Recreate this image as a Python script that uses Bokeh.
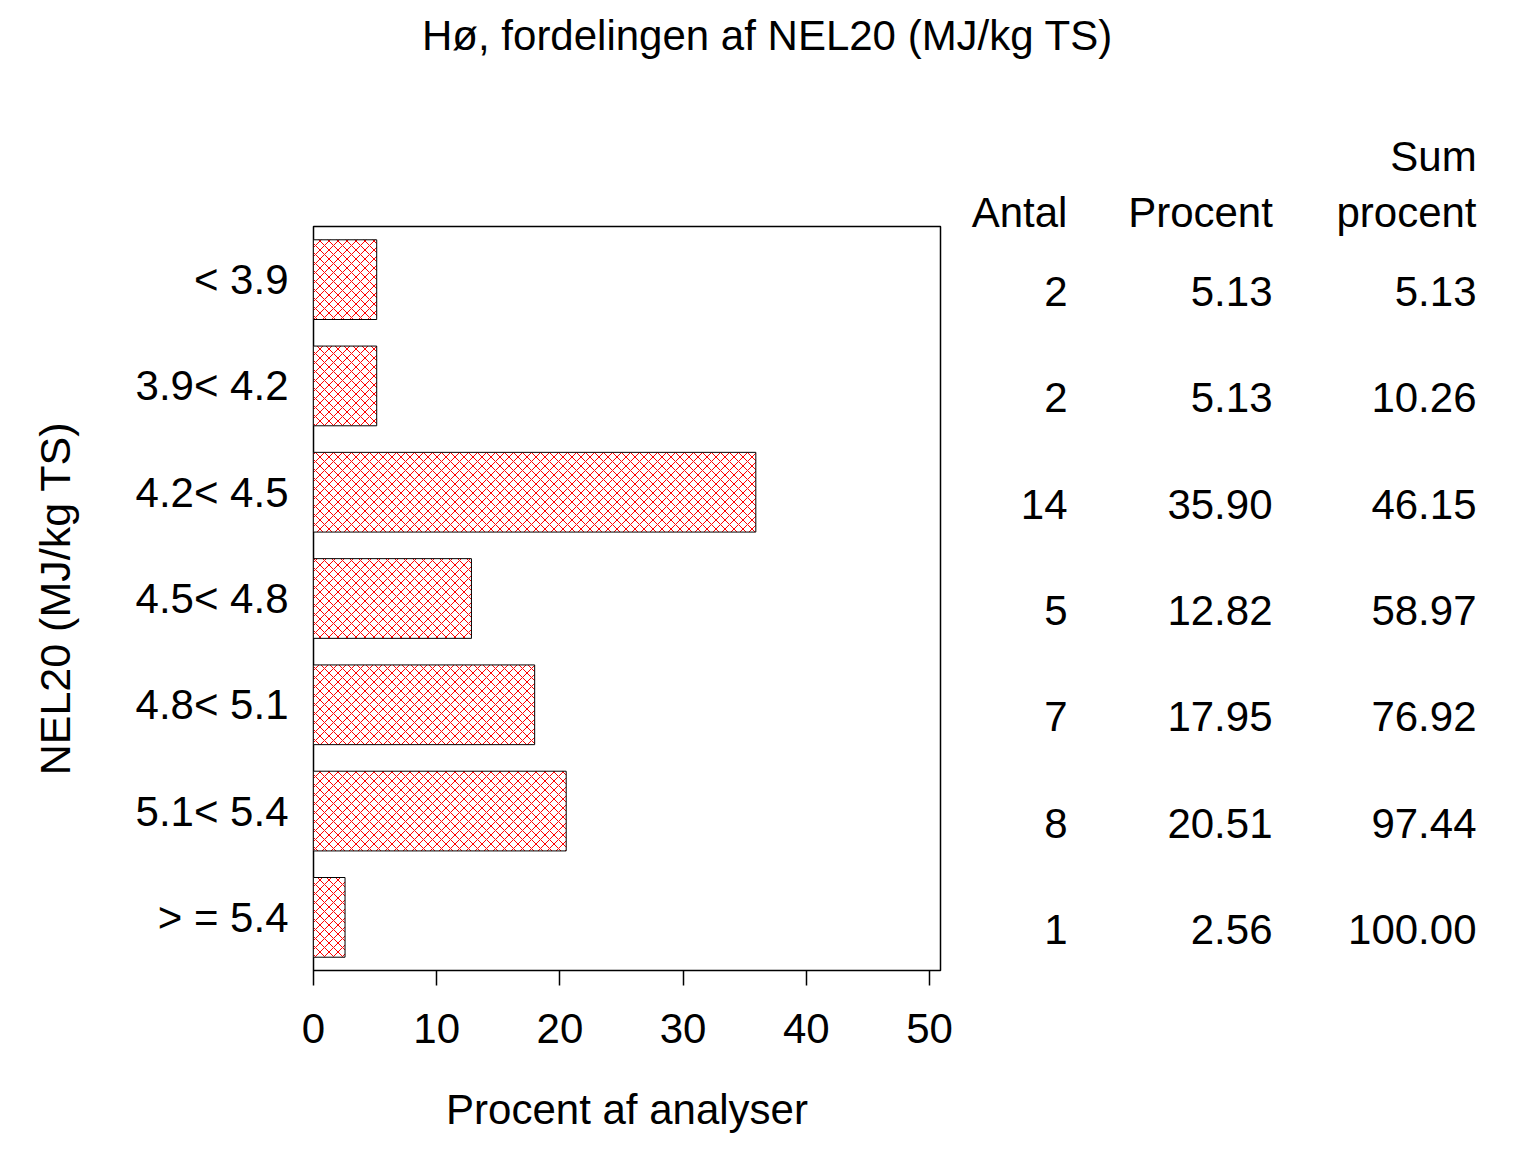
from bokeh.plotting import figure
from bokeh.models import ColumnDataSource, FactorRange, Range1d, FixedTicker, LinearAxis
from bokeh.layouts import column, row
from bokeh.transform import dodge
from bokeh.core.properties import value
from bokeh.embed import file_html
from bokeh.resources import INLINE

categories = ["< 3.9", "3.9< 4.2", "4.2< 4.5", "4.5< 4.8", "4.8< 5.1", "5.1< 5.4", "> = 5.4"]
antal = [2, 2, 14, 5, 7, 8, 1]
procent = [5.13, 5.13, 35.90, 12.82, 17.95, 20.51, 2.56]
sum_procent = [5.13, 10.26, 46.15, 58.97, 76.92, 97.44, 100.00]
x_ticks = [0, 10, 20, 30, 40, 50]

title_text = "Hø, fordelingen af NEL20 (MJ/kg TS)"
y_label = "NEL20 (MJ/kg TS)"
x_label = "Procent af analyser"
headers = ["Antal", "Procent", "procent"]
header_top = ["Sum"]

FONT = "Liberation Sans"
FS = "42px"

# ---- layout sizes (pixels)
TOTAL_W = 1520
T_H = 110                      # title strip
MAIN_H = 1030                  # chart + table strip
A_W = 960                      # chart figure width
B_W = TOTAL_W - A_W            # table figure width
A_TOP, A_BOT = 116, 170
A_LEFT, A_RIGHT = 313, 20

# table column right edges and header centres (page x)
col_right = [1067, 1272, 1476]
header_centres = [1019, 1200, 1406]
header_top_centres = [1433]

factors = list(reversed(categories))

src = ColumnDataSource(dict(
    cat=categories,
    pct=procent,
    antal=[str(a) for a in antal],
    pct_s=[f"{v:.2f}" for v in procent],
    sum_s=[f"{v:.2f}" for v in sum_procent],
))

# ---- title strip
t = figure(width=TOTAL_W, height=T_H, output_backend="svg", toolbar_location=None,
           x_range=Range1d(0, TOTAL_W), y_range=Range1d(0, T_H),
           min_border=0)
t.axis.visible = False
t.grid.visible = False
t.outline_line_color = None
t.text(x=[767], y=[T_H - 35], text=[title_text], text_font=value(FONT),
       text_font_size=FS, text_align="center", text_baseline="middle",
       text_color="black")

# ---- chart
yr = FactorRange(factors=factors)
p = figure(width=A_W, height=MAIN_H, output_backend="svg", toolbar_location=None,
           y_range=yr, x_range=Range1d(0, 50.89),
           min_border_left=A_LEFT, min_border_right=A_RIGHT,
           min_border_top=A_TOP, min_border_bottom=A_BOT)

p.hbar(y="cat", left=0, right="pct", height=0.75, source=src,
       fill_color="white", line_color="black", line_width=1,
       hatch_pattern="x", hatch_color="red", hatch_scale=9, hatch_weight=1)

p.xgrid.visible = False
p.ygrid.visible = False
p.outline_line_color = "black"
p.outline_line_width = 1.5
p.background_fill_color = "white"
p.border_fill_color = "white"

xa = p.xaxis[0]
xa.ticker = FixedTicker(ticks=x_ticks)
xa.minor_tick_line_color = None
xa.major_tick_in = 0
xa.major_tick_out = 15
xa.major_tick_line_width = 1.5
xa.major_tick_line_color = "black"
xa.axis_line_color = None
xa.major_label_text_font = FONT
xa.major_label_text_font_size = FS
xa.major_label_text_color = "black"
xa.major_label_standoff = 28
xa.axis_label = x_label
xa.axis_label_text_font = FONT
xa.axis_label_text_font_size = FS
xa.axis_label_text_font_style = "normal"
xa.axis_label_text_color = "black"
xa.axis_label_standoff = 40

ya = p.yaxis[0]
ya.major_tick_in = 0
ya.major_tick_out = 0
ya.minor_tick_line_color = None
ya.axis_line_color = None
ya.major_label_text_font = FONT
ya.major_label_text_font_size = FS
ya.major_label_text_color = "black"
ya.major_label_standoff = 25
ya.axis_label = y_label
ya.axis_label_text_font = FONT
ya.axis_label_text_font_size = "43px"
ya.axis_label_text_font_style = "normal"
ya.axis_label_text_color = "black"
ya.axis_label_standoff = 54

# ---- table (frame is aligned with the chart frame, shares category scale)
cat_px = (MAIN_H - A_TOP - A_BOT) / len(categories)
b = figure(width=B_W, height=MAIN_H, output_backend="svg", toolbar_location=None,
           x_range=Range1d(A_W, TOTAL_W), y_range=yr,
           min_border_left=0, min_border_right=0,
           min_border_top=A_TOP, min_border_bottom=A_BOT)
b.axis.visible = False
b.grid.visible = False
b.outline_line_color = None
b.background_fill_color = "white"
b.border_fill_color = "white"

row_shift = -12 / cat_px
for cx, cname in zip(col_right, ["antal", "pct_s", "sum_s"]):
    b.text(x=cx, y=dodge("cat", row_shift, range=yr), text=cname, source=src,
           text_font=value(FONT), text_font_size=FS, text_color="black",
           text_align="right", text_baseline="middle")


def header_axis(centres, labels, standoff):
    ax = LinearAxis(ticker=FixedTicker(ticks=centres),
                    major_label_overrides={c: s for c, s in zip(centres, labels)})
    ax.axis_line_color = None
    ax.major_tick_line_color = None
    ax.minor_tick_line_color = None
    ax.major_tick_in = 0
    ax.major_tick_out = 0
    ax.major_label_standoff = standoff
    ax.major_label_text_font = FONT
    ax.major_label_text_font_size = FS
    ax.major_label_text_color = "black"
    return ax


b.add_layout(header_axis(header_centres, headers, -9), "above")
b.add_layout(header_axis(header_top_centres, header_top, 6), "above")

layout = column(t, row(p, b, spacing=0), spacing=0)
open("out.html", "w").write(file_html(layout, INLINE))
